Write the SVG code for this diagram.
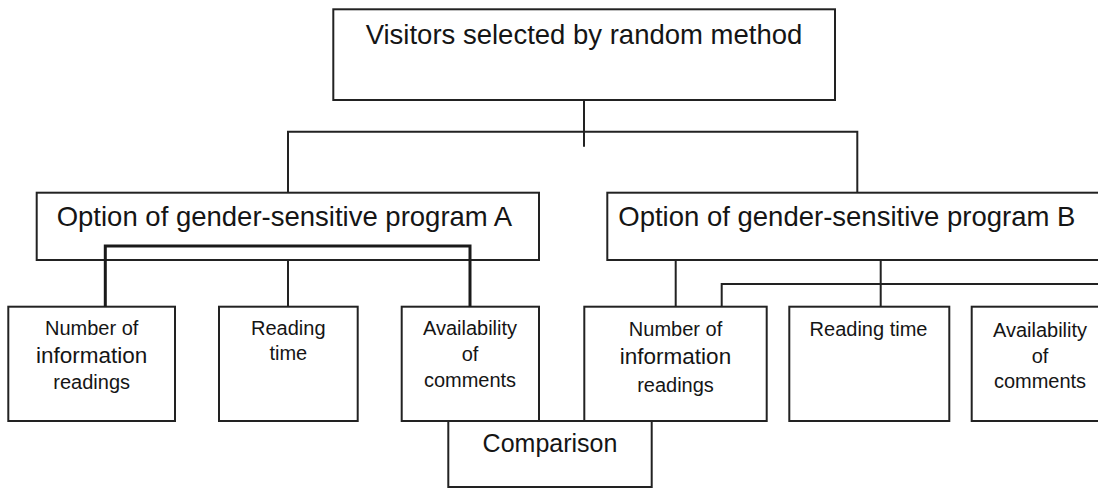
<svg xmlns="http://www.w3.org/2000/svg" width="1098" height="488" viewBox="0 0 1098 488">
<style>
.box{fill:#fff;stroke:#222;stroke-width:2}
.ln{fill:none;stroke:#222;stroke-width:2}
.thick{fill:none;stroke:#1a1a1a;stroke-width:3}
text{font-family:"Liberation Sans",Arial,sans-serif;fill:#151515}
.big{font-size:27.5px}
.sm{font-size:20px;text-anchor:middle}
.info{font-size:22.5px;text-anchor:middle}
.cmp{font-size:25px;text-anchor:middle}
</style>
<rect width="1098" height="488" fill="#fff"/>
<g id="top">
<rect class="box" x="333.3" y="9.3" width="501.7" height="90.7"/>
<text class="big" x="584" y="43.5" text-anchor="middle">Visitors selected by random method</text>
</g>
<g id="optionA">
<rect class="box" x="36.7" y="192.7" width="502.3" height="67.3"/>
<text class="big" x="56.7" y="226">Option of gender-sensitive program A</text>
</g>
<g id="optionB">
<rect class="box" x="607.3" y="192.7" width="520" height="67.3"/>
<text class="big" x="618.3" y="226">Option of gender-sensitive program B</text>
</g>
<g id="a1">
<rect class="box" x="8.3" y="306.7" width="166.7" height="114.3"/>
<text class="sm" x="91.7" y="335">Number of</text>
<text class="info" x="91.7" y="362.7">information</text>
<text class="sm" x="91.7" y="389.3">readings</text>
</g>
<g id="a2">
<rect class="box" x="219" y="306.7" width="138.7" height="114.3"/>
<text class="sm" x="288.3" y="335">Reading</text>
<text class="sm" x="288.3" y="360">time</text>
</g>
<g id="a3">
<rect class="box" x="401.7" y="306.7" width="137.3" height="114.3"/>
<text class="sm" x="470" y="335">Availability</text>
<text class="sm" x="470" y="361">of</text>
<text class="sm" x="470" y="386.7">comments</text>
</g>
<g id="b1">
<rect class="box" x="584.3" y="306.7" width="182.4" height="114.3"/>
<text class="sm" x="675.5" y="336">Number of</text>
<text class="info" x="675.5" y="364">information</text>
<text class="sm" x="675.5" y="391.7">readings</text>
</g>
<g id="b2">
<rect class="box" x="789.3" y="306.7" width="160" height="114.3"/>
<text class="sm" x="868.5" y="336">Reading time</text>
</g>
<g id="b3">
<rect class="box" x="971.7" y="306.7" width="140" height="114.3"/>
<text class="sm" x="1040" y="336.7">Availability</text>
<text class="sm" x="1040" y="362.7">of</text>
<text class="sm" x="1040" y="388.3">comments</text>
</g>
<g id="comparison">
<rect class="box" x="448.3" y="421" width="203.4" height="66"/>
<text class="cmp" x="550" y="451.7">Comparison</text>
</g>
<g id="connectors">
<path class="ln" d="M584 100V146.7M288 192.7V131.7H857.3V192.7"/>
<path class="ln" d="M288 260V306.7"/>
<path class="thick" d="M105.3 306.7V246H470V306.7"/>
<path class="ln" d="M675.7 260V306.7M880.7 260V306.7M721.7 306.7V284H1100"/>
</g>
</svg>
